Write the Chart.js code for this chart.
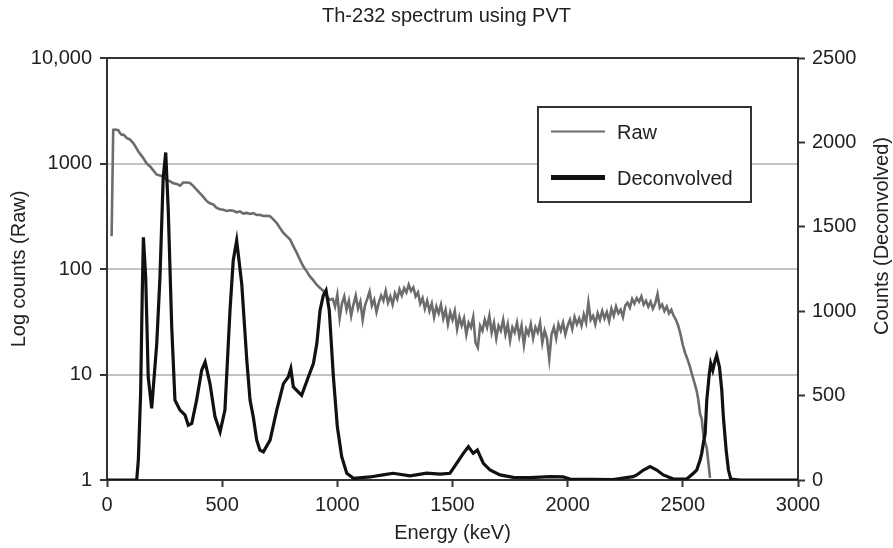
<!DOCTYPE html>
<html><head><meta charset="utf-8">
<script src="https://cdn.jsdelivr.net/npm/chart.js@4.4.0/dist/chart.umd.min.js"></script>
<style>html,body{margin:0;padding:0;background:#fff;}#wrap{width:893px;height:548px;}</style>
</head><body><div id="wrap"><canvas id="c" width="893" height="548"></canvas></div>
<script>
const chartTitle = 'Th-232 spectrum using PVT';
const seriesNames = ['Raw', 'Deconvolved'];
const xTickValues = [0, 500, 1000, 1500, 2000, 2500, 3000];
const leftTickValues = [1, 10, 100, 1000, 10000];
const rightTickValues = [0, 500, 1000, 1500, 2000, 2500];

const rawEnergy = [20,27,35,49,56,64,72,86,98,114,126,136,148,158,172,187,201,216,230,244,259,274,288,303,317,331,346,360,375,389,404,418,433,447,462,476,491,505,520,534,548,563,577,592,607,621,635,650,664,679,694,708,722,737,751,766,780,795,809,824,838,852,867,881,896,910,925,939,954,968,
980,990,1000,1010,1020,1030,1040,1050,1060,1070,1080,1090,1100,1110,1120,1130,1140,1150,1160,1170,1180,1190,1200,1210,1220,1230,1240,1250,1260,1270,1280,1290,1300,1310,1320,1330,1340,1350,1360,1370,1380,1390,1400,1410,1420,1430,1440,1450,1460,1470,1480,1490,1500,1510,1520,1530,1540,1550,1560,1570,1580,1590,1600,1610,1620,1630,1640,1650,1660,1670,1680,1690,1700,1710,1720,1730,1740,1750,1760,1770,1780,1790,1800,1810,1820,1830,1840,1850,1860,1870,1880,1890,1900,1910,1920,1930,1940,1950,1960,1970,1980,1990,2000,2010,2020,2030,2040,2050,2060,2070,2080,2090,2100,2110,2120,2130,2140,2150,2160,2170,2180,2190,2200,2210,2220,2230,2240,2250,2260,2270,2280,2290,2300,2310,2320,2330,2340,2350,2360,2370,2380,2390,2400,2410,2420,2430,2440,2450,2460,2470,2480,2490,2500,2510,2520,2530,2540,2550,2560,2567,2575,2582,2590,2604,2612,2618];
const rawCounts = [204,2085,2100,2070,1950,1870,1880,1740,1700,1560,1420,1300,1200,1120,1000,937,860,783,770,755,700,676,650,640,617,660,660,653,610,565,520,482,440,420,408,380,368,365,355,360,357,345,352,335,340,332,338,325,327,318,320,316,295,273,245,220,205,190,165,142,122,106,95,85,78,71,66,62,55,51,
52,44,57,34,47,55,41,50,36,46,56,42,49,33,45,52,61,45,51,39,48,56,50,62,48,55,46,59,52,64,56,66,60,71,62,67,55,60,47,53,42,50,40,47,35,44,38,46,34,41,30,39,33,40,27,35,29,34,24,31,28,35,20,18,29,26,33,28,36,25,31,22,29,26,33,24,30,21,28,25,31,23,29,19,27,24,30,22,28,25,31,20,26,22,14,24,28,22,30,26,31,24,29,33,27,35,30,34,29,37,31,48,33,36,30,38,33,40,34,39,32,42,36,44,38,41,35,45,48,43,52,47,53,49,55,46,50,44,49,42,47,58,43,46,40,44,38,41,36,33,29,24,19,16,14,12,10,8.4,7,5.8,4.2,3.8,2.6,2,1.4,1.05];

const deconvEnergy = [0,60,129,136,146,153,158,168,179,194,216,230,244,255,266,281,295,317,339,353,368,389,411,426,447,469,491,512,534,548,563,585,607,621,635,650,664,679,708,737,766,787,798,809,845,874,896,911,925,939,951,965,983,1000,1019,1041,1070,1142,1198,1242,1316,1388,1446,1489,1518,1547,1569,1590,1608,1634,1663,1706,1764,1837,1924,1980,2010,2197,2284,2300,2329,2358,2387,2415,2459,2517,2546,2560,2575,2582,2589,2597,2604,2615,2621,2630,2640,2647,2659,2669,2676,2688,2698,2708,2748,3000];
const deconvCounts = [0,0,0,118,512,1103,1438,1202,610,424,808,1202,1792,1940,1596,906,473,414,384,325,335,473,650,699,571,374,285,414,1005,1300,1418,1162,709,473,374,236,177,167,236,414,571,610,660,551,502,610,690,808,1005,1093,1123,1005,610,315,138,40,10,18,30,40,24,41,35,40,99,158,197,158,177,99,59,30,16,14,20,18,6,3,20,30,59,79,59,30,6,6,40,59,118,158,217,276,473,630,690,650,709,739,670,532,374,177,59,6,0,0];

const rawPoints = rawEnergy.map((e, i) => ({x: e, y: rawCounts[i]}));
const deconvPoints = deconvEnergy.map((e, i) => ({x: e, y: deconvCounts[i]}));

const FONT = '"Liberation Sans", Arial, Helvetica, sans-serif';
const TXT = '#222';
const AX = '#333';

const decorPlugin = {
  id: 'decor',
  afterDraw(chart) {
    const {ctx, chartArea: a} = chart;
    ctx.save();
    ctx.strokeStyle = AX; ctx.lineWidth = 2;
    ctx.beginPath(); ctx.moveTo(a.left - 1, a.top); ctx.lineTo(a.right + 1, a.top); ctx.stroke();
    ctx.fillStyle = TXT;
    ctx.font = '20px ' + FONT;
    ctx.textAlign = 'center'; ctx.textBaseline = 'middle';
    ctx.translate(882, 236); ctx.rotate(-Math.PI / 2);
    ctx.fillText('Counts (Deconvolved)', 0, 0);
    ctx.restore();
    ctx.save();
    const bx = 538, by = 107, bw = 213, bh = 95;
    ctx.fillStyle = '#fff'; ctx.fillRect(bx, by, bw, bh);
    ctx.strokeStyle = AX; ctx.lineWidth = 2; ctx.strokeRect(bx, by, bw, bh);
    const ds = chart.data.datasets;
    const rows = [131.5, 177.5];
    ds.forEach((d, i) => {
      ctx.strokeStyle = d.borderColor;
      ctx.lineWidth = i === 0 ? 2 : 5;
      ctx.beginPath(); ctx.moveTo(551, rows[i]); ctx.lineTo(605, rows[i]); ctx.stroke();
      ctx.fillStyle = TXT; ctx.font = '20px ' + FONT;
      ctx.textAlign = 'left'; ctx.textBaseline = 'middle';
      ctx.fillText(d.label, 617, rows[i] + 1.5);
    });
    ctx.restore();
  }
};

new Chart(document.getElementById('c'), {
  type: 'line',
  data: {
    datasets: [
      {label: seriesNames[0], data: rawPoints, yAxisID: 'y', borderColor: '#6c6c6c', borderWidth: 2.6, pointRadius: 0, tension: 0, order: 2},
      {label: seriesNames[1], data: deconvPoints, yAxisID: 'y2', borderColor: '#111111', borderWidth: 3.2, pointRadius: 0, tension: 0, order: 1}
    ]
  },
  options: {
    responsive: false,
    animation: false,
    devicePixelRatio: 1,
    layout: {padding: 0},
    plugins: {
      legend: {display: false},
      tooltip: {enabled: false},
      title: {display: true, text: chartTitle, color: TXT, font: {family: FONT, size: 20, weight: 'normal'}, padding: {top: 4, bottom: 30}}
    },
    scales: {
      x: {
        type: 'linear', position: 'bottom', min: 0, max: 3000,
        afterBuildTicks: s => { s.ticks = xTickValues.map(v => ({value: v})); },
        afterFit: s => { s.height = 68; },
        ticks: {color: TXT, font: {family: FONT, size: 20}, padding: 6, maxRotation: 0, autoSkip: false, callback: v => String(v)},
        grid: {drawOnChartArea: false, drawTicks: true, tickLength: 7, tickColor: AX, tickWidth: 2},
        border: {color: AX, width: 2},
        title: {display: true, text: 'Energy (keV)', color: TXT, font: {family: FONT, size: 20}, padding: {top: 0, bottom: 3}}
      },
      y: {
        type: 'logarithmic', position: 'left', min: 1, max: 10000,
        afterBuildTicks: s => { s.ticks = leftTickValues.map(v => ({value: v})); },
        afterFit: s => { s.width = 107; },
        ticks: {color: TXT, font: {family: FONT, size: 20}, padding: 8, autoSkip: false,
          callback: v => v === 10000 ? '10,000' : String(v)},
        grid: {drawOnChartArea: true, drawTicks: true, tickLength: 7, tickColor: AX, tickWidth: 2, lineWidth: 2,
          color: c => (c.tick && [10, 100, 1000].includes(c.tick.value)) ? '#c4c4c4' : 'rgba(0,0,0,0)'},
        border: {color: AX, width: 2},
        title: {display: true, text: 'Log counts (Raw)', color: TXT, font: {family: FONT, size: 20}, padding: {top: 7, bottom: 0}}
      },
      y2: {
        type: 'linear', position: 'right', min: 0, max: 2500,
        afterBuildTicks: s => { s.ticks = rightTickValues.map(v => ({value: v})); },
        afterFit: s => { s.width = 95; },
        ticks: {color: TXT, font: {family: FONT, size: 20}, padding: 7, autoSkip: false, callback: v => String(v)},
        grid: {drawOnChartArea: false, drawTicks: true, tickLength: 7, tickColor: AX, tickWidth: 2},
        border: {color: AX, width: 2},
        title: {display: false}
      }
    }
  },
  plugins: [decorPlugin]
});
</script>
</body></html>
